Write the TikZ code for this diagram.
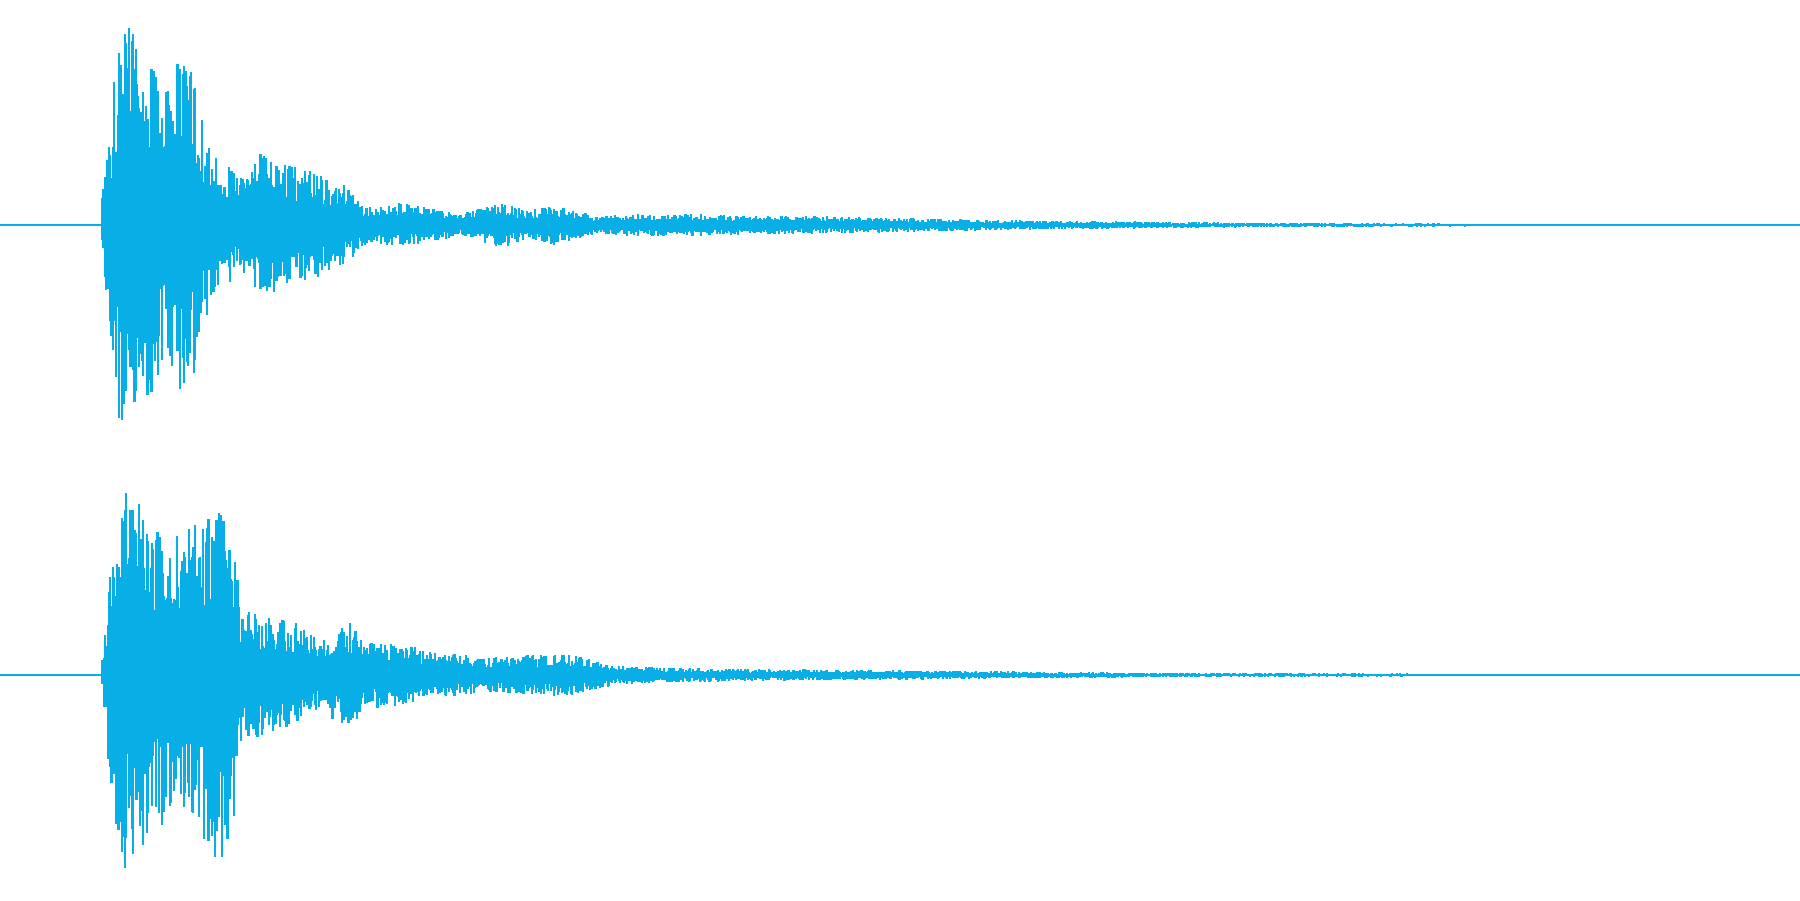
\documentclass[tikz,border=0pt]{standalone}
\usetikzlibrary{calc}
\definecolor{wave}{HTML}{08AEE6}

\begin{document}
\begin{tikzpicture}[x=0.01cm,y=-0.01cm]

% parameters %{{{2

	\def\topc{196}
	\def\botc{588}
	\pgfmathsetseed{4711}

	\tikzset{baseline/.style={wave, line width=0.4pt},
		spike/.style={wave, line width=0.55pt}}

% frame %{{{2

	\useasboundingbox (0,0) rectangle (1568,784);

	\draw[baseline] (0,\topc) -- (1568,\topc);
	\draw[baseline] (0,\botc) -- (1568,\botc);

% channel 1 %{{{2

	% ---- envelope segments x1/a1/x2/a2

	\foreach \xa/\aa/\xb/\ab in {88/0/90/40, 90/40/96/90, 96/90/104/170,
		104/170/110/180, 110/180/120/160, 120/160/135/150, 135/150/145/120,
		145/120/158/150, 158/150/170/130, 170/130/180/80, 180/80/186/60,
		186/60/215/40, 215/40/230/70, 230/70/245/55, 245/55/270/50,
		270/50/300/35, 300/35/320/15, 320/15/350/20, 350/20/400/10,
		400/10/440/20, 440/20/460/12, 460/12/480/18, 480/18/520/8,
		520/8/560/10, 560/10/700/8, 700/8/800/6, 800/6/900/4,
		900/4/1000/3, 1000/3/1100/2, 1100/2/1360/1}
	{
		\pgfmathsetmacro\xs{\xa+1.2}
		\foreach \x in {\xa,\xs,...,\xb}{
			\pgfmathsetmacro\amp{\aa+(\ab-\aa)*(\x-\xa)/(\xb-\xa)}
			\pgfmathsetmacro\up{\amp*(0.4+0.6*rnd)}
			\pgfmathsetmacro\dn{\amp*(0.4+0.6*rnd)}
			\draw[spike] (\x,\topc-\up) -- (\x,\topc+\dn);
		}
	}

% channel 2 %{{{2

	\foreach \xa/\aa/\xb/\ab in {88/0/96/100, 96/100/104/180,
		104/180/110/170, 110/170/130/140, 130/140/160/120,
		160/120/185/160, 185/160/200/160, 200/160/210/60,
		210/60/260/45, 260/45/280/30, 280/30/300/50, 300/50/320/30,
		320/30/360/25, 360/25/420/15, 420/15/490/20, 490/20/540/8,
		540/8/600/6, 600/6/800/4, 800/4/1000/2, 1000/2/1360/1}
	{
		\pgfmathsetmacro\xs{\xa+1.2}
		\foreach \x in {\xa,\xs,...,\xb}{
			\pgfmathsetmacro\amp{\aa+(\ab-\aa)*(\x-\xa)/(\xb-\xa)}
			\pgfmathsetmacro\up{\amp*(0.4+0.6*rnd)}
			\pgfmathsetmacro\dn{\amp*(0.4+0.6*rnd)}
			\draw[spike] (\x,\botc-\up) -- (\x,\botc+\dn);
		}
	}

% closing %{{{2

\end{tikzpicture}
\end{document}
